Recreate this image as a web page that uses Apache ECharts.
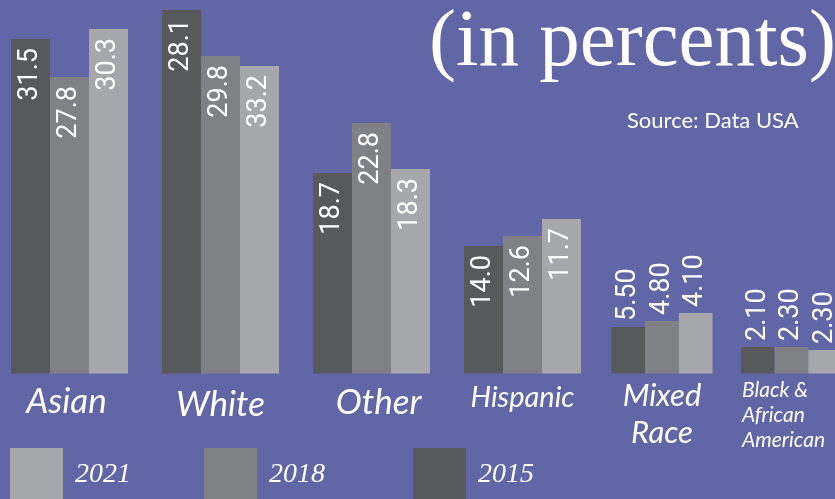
<!DOCTYPE html>
<html>
<head>
<meta charset="utf-8">
<script src="https://cdn.jsdelivr.net/npm/echarts@6/dist/echarts.min.js"></script>
<style>
  html, body { margin: 0; padding: 0; background: #6066a6; }
  #chart { width: 835px; height: 499px; }
</style>
</head>
<body>
<div id="chart"></div>
<script>
// groups, left to right
const categories = ['Asian', 'White', 'Other', 'Hispanic', 'Mixed Race', 'Black & African American']
// bar heights as drawn in the picture (they do not follow the printed numbers)
const height2015 = [33.45, 36.35, 20.05, 12.75, 4.65, 2.65]
const height2018 = [29.65, 31.75, 25.05, 13.75, 5.25, 2.65]
const height2021 = [34.45, 30.75, 20.45, 15.45, 6.05, 2.35]
// numbers printed on the bars
const label2015 = ['31.5', '28.1', '18.7', '14.0', '5.50', '2.10']
const label2018 = ['27.8', '29.8', '22.8', '12.6', '4.80', '2.30']
const label2021 = ['30.3', '33.2', '18.3', '11.7', '4.10', '2.30']

const BIG = 4 // first four groups are drawn wide, last two narrow
const colors = { '2015': '#58595b', '2018': '#808184', '2021': '#a6a7aa' }

const chart = echarts.init(document.getElementById('chart'))

const insideLabel = {
  show: true,
  rotate: 90,
  position: 'insideTop',
  align: 'right',
  verticalAlign: 'middle',
  distance: 9,
  color: '#fff',
  fontFamily: 'Roboto',
  fontSize: 27,
}
const outsideLabel = Object.assign({}, insideLabel, { position: 'top', align: 'left', distance: 6 })

function makeSeries(name, heights, texts, gridIdx) {
  const from = gridIdx === 0 ? 0 : BIG
  const to = gridIdx === 0 ? BIG : heights.length
  return {
    name: name,
    type: 'bar',
    xAxisIndex: gridIdx,
    yAxisIndex: gridIdx,
    barWidth: gridIdx === 0 ? 39 : 33.7,
    barGap: 0,
    itemStyle: { color: colors[name] },
    label: Object.assign({}, gridIdx === 0 ? insideLabel : outsideLabel, {
      formatter: (p) => texts[from + p.dataIndex],
    }),
    data: heights.slice(from, to),
  }
}

const catLabel = {
  Asian: '{a|Asian}',
  White: '{w|White}',
  Other: '{o|Other}',
  Hispanic: '{h|Hispanic}',
  'Mixed Race': '{m|Mixed}\n{m|Race}',
  'Black & African American': '{b|Black &}\n{b|African}\n{b|American}',
}
const lato = { fontFamily: 'Lato', fontStyle: 'italic', color: '#fff' }
const xAxisBase = {
  type: 'category',
  axisLine: { show: false },
  axisTick: { show: false },
  axisLabel: {
    margin: 4,
    interval: 0,
    formatter: (v) => catLabel[v],
    rich: {
      a: Object.assign({ fontSize: 35, lineHeight: 48, padding: [0, 6, 0, 0] }, lato),
      w: Object.assign({ fontSize: 35, lineHeight: 55 }, lato),
      o: Object.assign({ fontSize: 35, lineHeight: 50, padding: [0, 0, 0, 14] }, lato),
      h: Object.assign({ fontSize: 29, lineHeight: 41 }, lato),
      m: Object.assign({ fontSize: 31, lineHeight: 37 }, lato),
      b: Object.assign({ fontSize: 21, lineHeight: 25, width: 99, align: 'left' }, lato),
    },
  },
}
const yAxisBase = { type: 'value', min: 0, max: 37.35, show: false, splitLine: { show: false } }

const legendAt = (name, left) => ({
  data: [name],
  left: left,
  top: 448,
  padding: 0,
  icon: 'rect',
  itemWidth: 53,
  itemHeight: 53,
  selectedMode: false,
  textStyle: {
    color: '#fff',
    fontFamily: 'Liberation Serif',
    fontStyle: 'italic',
    fontSize: 28,
    padding: [0, 0, 0, 7],
  },
})

chart.setOption({
  backgroundColor: '#6066a6',
  animation: false,
  title: [
    {
      text: '(in percents)',
      left: 429,
      top: 3,
      padding: 0,
      textStyle: { color: '#fff', fontFamily: 'Liberation Serif', fontWeight: 'normal', fontSize: 81 },
    },
    {
      text: 'Source: Data USA',
      left: 627,
      top: 110,
      padding: 0,
      textStyle: { color: '#fff', fontFamily: 'Lato', fontWeight: 'normal', fontSize: 22 },
    },
  ],
  legend: [legendAt('2021', 10), legendAt('2018', 204), legendAt('2015', 413)],
  grid: [
    { left: -6, width: 604, top: 0, height: 373.5, outerBoundsMode: 'none' },
    { left: 597.25, width: 259, top: 0, height: 373.5, outerBoundsMode: 'none' },
  ],
  xAxis: [
    Object.assign({ gridIndex: 0, data: categories.slice(0, BIG) }, xAxisBase),
    Object.assign({ gridIndex: 1, data: categories.slice(BIG) }, xAxisBase),
  ],
  yAxis: [Object.assign({ gridIndex: 0 }, yAxisBase), Object.assign({ gridIndex: 1 }, yAxisBase)],
  series: [
    makeSeries('2015', height2015, label2015, 0),
    makeSeries('2018', height2018, label2018, 0),
    makeSeries('2021', height2021, label2021, 0),
    makeSeries('2015', height2015, label2015, 1),
    makeSeries('2018', height2018, label2018, 1),
    makeSeries('2021', height2021, label2021, 1),
  ],
})
</script>
</body>
</html>
